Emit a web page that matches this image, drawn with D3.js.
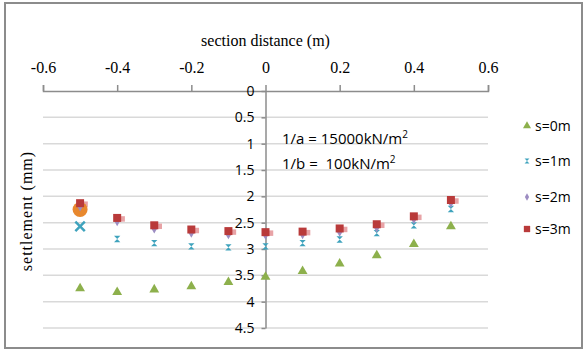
<!DOCTYPE html>
<html>
<head>
<meta charset="utf-8">
<script src="https://cdn.jsdelivr.net/npm/d3@7"></script>
<style>
    body { margin: 0; background: #fff; }
    .grid line { stroke: #d9d9d9; stroke-width: 1.5; }
    .axis path, .axis line { stroke: #8c8c8c; stroke-width: 1.5; }
    .legend text { font-family: "Open Sans", sans-serif; font-size: 14px; fill: #000; }
</style>
</head>
<body>
<svg id="chart" width="588" height="353"></svg>
<script>
// distances along the section (m)
const distances = [-0.5, -0.4, -0.3, -0.2, -0.1, 0, 0.1, 0.2, 0.3, 0.4, 0.5];

// settlement (mm) per s value
const s0 = [3.75, 3.82, 3.77, 3.71, 3.63, 3.53, 3.42, 3.28, 3.12, 2.91, 2.57];
const s1 = [2.57, 2.81, 2.89, 2.95, 2.97, 2.95, 2.89, 2.82, 2.70, 2.55, 2.24];
const s2 = [2.20, 2.48, 2.62, 2.70, 2.73, 2.74, 2.73, 2.68, 2.60, 2.44, 2.13];
const s3 = [2.13, 2.41, 2.55, 2.63, 2.66, 2.68, 2.67, 2.61, 2.53, 2.38, 2.07];

// stray point drawn at the left end of the section
const orangePoint = { x: -0.5, y: 2.25 };

const xTicks = [-0.6, -0.4, -0.2, 0, 0.2, 0.4, 0.6];
const yTicks = [0, 0.5, 1, 1.5, 2, 2.5, 3, 3.5, 4, 4.5];

const seriesNames = ['s=0m', 's=1m', 's=2m', 's=3m'];
const colours = ['#8db04c', '#3fa3bd', '#9d8dc2', '#b93a3a'];

const svg = d3.select('#chart');

// outer frame
svg.append('rect')
    .attr('x', 5).attr('y', 3)
    .attr('width', 577).attr('height', 345)
    .attr('fill', 'none')
    .attr('stroke', '#8c8c8c')
    .attr('stroke-width', 2);

const x = d3.scaleLinear().domain([-0.6, 0.6]).range([43, 488]);
const y = d3.scaleLinear().domain([0, 4.5]).range([91, 328]);

// horizontal gridlines
svg.append('g')
    .attr('class', 'grid')
    .selectAll('line')
    .data(yTicks.filter(d => d !== 0))
    .join('line')
    .attr('x1', x(-0.6))
    .attr('x2', x(0.6))
    .attr('y1', d => y(d))
    .attr('y2', d => y(d));

// x axis on top
svg.append('g')
    .attr('class', 'x axis')
    .attr('transform', `translate(0,${y(0)})`)
    .call(d3.axisTop(x).tickValues(xTicks).tickSize(6).tickPadding(12).tickFormat(d => String(d)))
    .call(g => g.selectAll('text')
        .style('font-family', '"Liberation Serif", "DejaVu Serif", serif')
        .style('font-size', '16px')
        .style('fill', '#000'));

// y axis through zero
svg.append('g')
    .attr('class', 'y axis')
    .attr('transform', `translate(${x(0)},0)`)
    .call(d3.axisLeft(y).tickValues(yTicks).tickSize(4).tickSizeOuter(0).tickPadding(7).tickFormat(d => String(d)))
    .call(g => g.selectAll('text')
        .style('font-family', '"Open Sans", sans-serif')
        .style('font-size', '14px')
        .style('fill', '#000'));

// axis titles
svg.append('text')
    .attr('x', x(0))
    .attr('y', 46)
    .attr('text-anchor', 'middle')
    .style('font-family', '"Liberation Serif", serif')
    .style('font-size', '16px')
    .text('section distance (m)');

svg.append('text')
    .attr('transform', 'translate(32,211) rotate(-90)')
    .attr('text-anchor', 'middle')
    .style('font-family', '"Liberation Serif", serif')
    .style('font-size', '16px')
    .style('letter-spacing', '1px')
    .text('settlement (mm)');

// annotation
const noteLines = [['1/a = 15000kN/m', 144], ['1/b =\u00a0 100kN/m', 169]];
noteLines.forEach(([txt, yPos]) => {
    const t = svg.append('text')
        .style('font-family', '"Open Sans", sans-serif')
        .style('font-size', '15px');
    t.append('tspan').attr('x', 282).attr('y', yPos).text(txt);
    t.append('tspan').attr('dy', -6).style('font-size', '10px').text('2');
});

// hourglass marker used for s=1m
const hourglass = {
    draw(context, size) {
        const r = Math.sqrt(size) / 2;
        context.moveTo(-r, -r);
        context.lineTo(r, -r);
        context.lineTo(-r, r);
        context.lineTo(r, r);
        context.closePath();
    }
};

const symbolTypes = [d3.symbolTriangle, hourglass, d3.symbolDiamond, d3.symbolSquare];
const symbolSizes = [42, 40, 24, 64];

const seriesData = [s0, s1, s2, s3].map((vals, i) => ({
    name: seriesNames[i],
    points: distances.map((d, j) => ({ x: d, y: vals[j] }))
}));

const marks = svg.append('g');

// light shadow behind the squares
marks.append('g')
    .selectAll('path')
    .data(seriesData[3].points)
    .join('path')
    .attr('transform', d => `translate(${x(d.x) + 5},${y(d.y) + 1})`)
    .attr('d', d3.symbol().type(d3.symbolSquare).size(30))
    .attr('fill', '#e8a3a6');

// orange stray point
marks.append('circle')
    .attr('cx', x(orangePoint.x))
    .attr('cy', y(orangePoint.y))
    .attr('r', 7.5)
    .attr('fill', '#e8882e');

[0, 1, 2, 3].forEach(i => {
    const g = marks.append('g');
    g.selectAll('path')
        .data(seriesData[i].points)
        .join('path')
        .attr('transform', d => `translate(${x(d.x)},${y(d.y)})`)
        .attr('d', (d, j) => {
            if (i === 1 && j === 0) {
                return d3.symbol().type(d3.symbolX).size(60)();
            }
            return d3.symbol().type(symbolTypes[i]).size(symbolSizes[i])();
        })
        .attr('fill', (d, j) => (i === 1 && j === 0) ? 'none' : colours[i])
        .attr('stroke', (d, j) => (i === 1 && j === 0) ? colours[1] : 'none')
        .attr('stroke-width', 2.5);
});

// legend
const legend = svg.append('g').attr('class', 'legend');
const legendY = [126, 161, 197, 229];
const legendSizes = [28, 24, 16, 40];
seriesNames.forEach((name, i) => {
    legend.append('path')
        .attr('transform', `translate(527,${legendY[i]})`)
        .attr('d', d3.symbol().type(symbolTypes[i]).size(legendSizes[i]))
        .attr('fill', colours[i]);
    legend.append('text')
        .attr('x', 535)
        .attr('y', legendY[i])
        .attr('dy', '0.35em')
        .text(name);
});
</script>
</body>
</html>
